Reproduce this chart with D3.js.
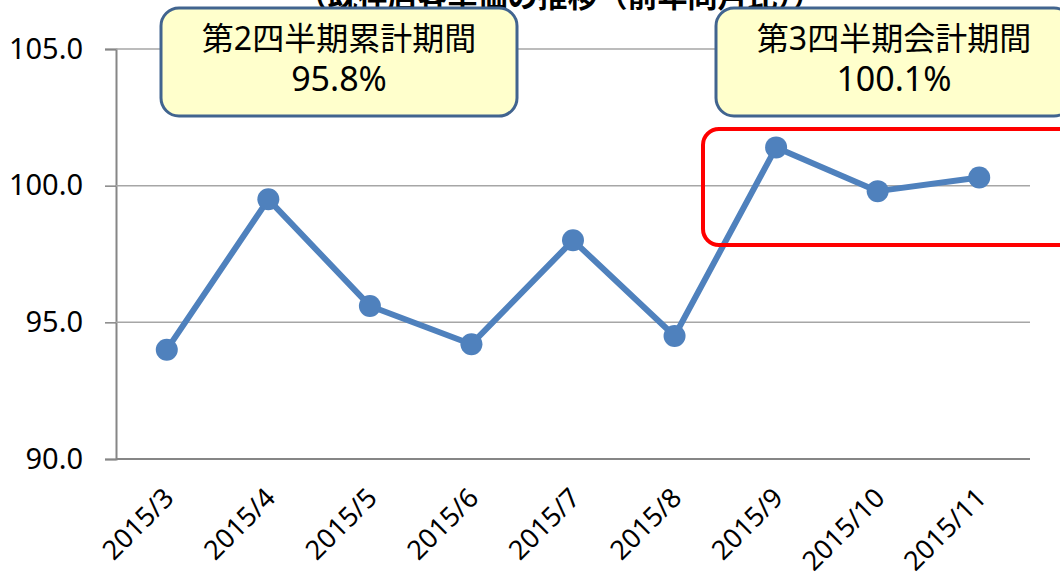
<!DOCTYPE html>
<html>
<head>
<meta charset="utf-8">
<script src="https://cdn.jsdelivr.net/npm/d3@7"></script>
<style>
  body { margin: 0; background: #fff; }
  .content { width: 1060px; height: 581px; }
  text { font-family: "Noto Sans", "Noto Sans CJK JP", sans-serif; }
</style>
</head>
<body>
<div class="content"></div>
<script>
var months = ['2015/3', '2015/4', '2015/5', '2015/6', '2015/7', '2015/8', '2015/9', '2015/10', '2015/11'];
var values = [94.0, 99.5, 95.6, 94.2, 98.0, 94.5, 101.4, 99.8, 100.3];
var yTicks = [90, 95, 100, 105];
var titleText = '（既存店客単価の推移（前年同月比））';
var note1 = ['第2四半期累計期間', '95.8%'];
var note2 = ['第3四半期会計期間', '100.1%'];

var svg = d3.select('.content')
  .append('svg')
  .attr('width', 1060)
  .attr('height', 581);

var margin = {left: 116, top: 49, right: 30, bottom: 122};
var width = 1060 - margin.left - margin.right,
  height = 581 - margin.top - margin.bottom;

var g = svg.append('g')
  .attr('transform', 'translate(' + margin.left + ',' + margin.top + ')');

var x = d3.scaleBand().range([0, width]).domain(months);
var y = d3.scaleLinear().range([height, 0]).domain([90, 105]);

// title (cut off at the top, as in the original)
svg.append('text')
  .attr('x', 560)
  .attr('y', 7)
  .attr('text-anchor', 'middle')
  .attr('font-size', 30)
  .attr('font-weight', 'bold')
  .attr('font-family', '"Noto Sans CJK JP", sans-serif')
  .text(titleText);

// grid + y axis
var axisY = g.append('g')
  .call(d3.axisLeft(y).tickValues(yTicks).tickSize(11).tickFormat(d3.format('.1f')));
axisY.select('.domain').attr('stroke', '#868686').attr('stroke-width', 2);
axisY.selectAll('.tick line').attr('stroke', '#868686').attr('stroke-width', 1.5);
axisY.selectAll('.tick text')
  .attr('font-size', 29)
  .attr('fill', '#000')
  .attr('x', -33);

g.append('g')
  .selectAll('line')
  .data(yTicks)
  .enter()
  .append('line')
  .attr('x1', 0)
  .attr('x2', width)
  .attr('y1', function(d) { return y(d); })
  .attr('y2', function(d) { return y(d); })
  .attr('stroke', function(d) { return d === 90 ? '#868686' : '#a6a6a6'; })
  .attr('stroke-width', function(d) { return d === 90 ? 2 : 1.5; });

// x labels
g.append('g')
  .selectAll('text')
  .data(months)
  .enter()
  .append('text')
  .attr('transform', function(d) {
    return 'translate(' + (x(d) + x.bandwidth() / 2 + 2) + ',' + (height + 34) + ') rotate(-45)';
  })
  .attr('text-anchor', 'end')
  .attr('dy', '0.35em')
  .attr('font-size', 27)
  .text(function(d) { return d; });

// line + markers
var line = d3.line()
  .x(function(d, i) { return x(months[i]) + x.bandwidth() / 2; })
  .y(function(d) { return y(d); });

g.append('path')
  .datum(values)
  .attr('d', line)
  .attr('fill', 'none')
  .attr('stroke', '#4f81bd')
  .attr('stroke-width', 6)
  .attr('stroke-linejoin', 'round');

g.selectAll('.dot')
  .data(values)
  .enter()
  .append('circle')
  .attr('class', 'dot')
  .attr('cx', function(d, i) { return x(months[i]) + x.bandwidth() / 2; })
  .attr('cy', function(d) { return y(d); })
  .attr('r', 11)
  .attr('fill', '#4f81bd');

// red highlight box
svg.append('rect')
  .attr('x', 703)
  .attr('y', 129)
  .attr('width', 380)
  .attr('height', 116)
  .attr('rx', 16)
  .attr('fill', 'none')
  .attr('stroke', '#ff0000')
  .attr('stroke-width', 4);

// callouts
function callout(x0, w, lines) {
  var c = svg.append('g');
  c.append('rect')
    .attr('x', x0)
    .attr('y', 8)
    .attr('width', w)
    .attr('height', 108)
    .attr('rx', 18)
    .attr('fill', '#ffffcc')
    .attr('stroke', '#41648f')
    .attr('stroke-width', 3);
  c.append('text')
    .attr('x', x0 + w / 2)
    .attr('y', 50)
    .attr('text-anchor', 'middle')
    .attr('font-size', 32)
    .attr('font-family', '"Noto Sans CJK JP", sans-serif')
    .text(lines[0]);
  c.append('text')
    .attr('x', x0 + w / 2)
    .attr('y', 91)
    .attr('text-anchor', 'middle')
    .attr('font-size', 34)
    .text(lines[1]);
}
callout(161, 356, note1);
callout(716, 356, note2);
</script>
</body>
</html>
